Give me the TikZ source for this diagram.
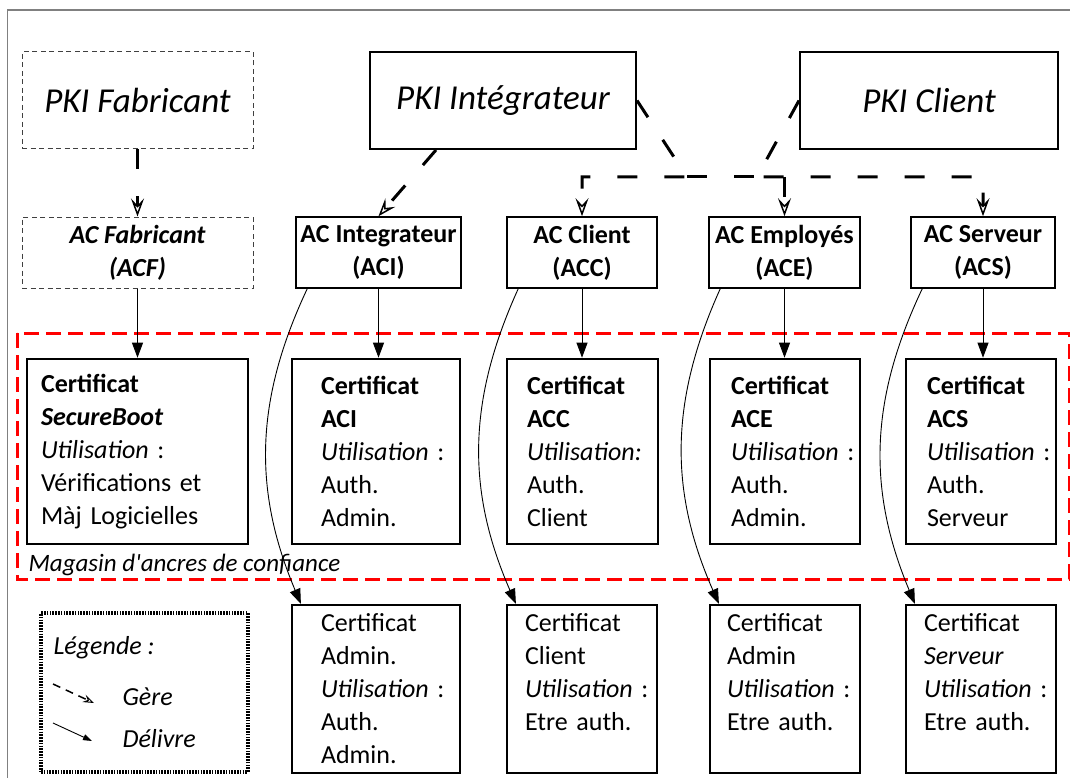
\documentclass[tikz,border=0pt]{standalone}
\usepackage{fontspec}
\setmainfont{Carlito}
\usetikzlibrary{arrows.meta}
\hyphenpenalty=10000

\tikzset{
  pki/.style={draw, line width=2pt, minimum height=97pt, inner sep=0pt, font=\fontsize{35}{42}\selectfont\itshape},
  acbox/.style={draw, line width=1.6pt, minimum height=71pt, inner sep=0pt, align=center, font=\fontsize{26}{33}\selectfont\bfseries},
  fabbox/.style={draw=black!75, line width=1pt, dash pattern=on 5pt off 3.5pt},
  certbox/.style={draw, line width=2.6pt, minimum height=185pt, inner ysep=0pt, align=left, font=\fontsize{26}{33}\selectfont},
  userbox/.style={draw, line width=2.2pt, minimum height=168pt, inner ysep=0pt, align=left, font=\fontsize{26}{33}\selectfont},
  gere/.style={line width=3pt, dash pattern=on 20pt off 27pt, -{Stealth[open, length=18pt, width=13pt, inset=7pt, line width=1.5pt]}},
  delivre/.style={line width=0.9pt, -{Triangle[length=15pt, width=11pt]}},
  legtext/.style={anchor=base west, font=\fontsize{26}{31}\selectfont\itshape},
}

\begin{document}
\begin{tikzpicture}[x=1pt, y=1pt]
  \useasboundingbox (0,0) rectangle (1070,-778);
  \draw [gray, line width=1.5pt] (7.5,-778) -- (7.5,-10) -- (1070,-10);

  % les PKI
  \node [pki, fabbox, minimum width=231pt] (pkiF) at (137.5,-100.5) {PKI Fabricant};
  \node [pki, minimum width=266pt] (pkiI) at (503,-100.5) {PKI Intégrateur};
  \node [pki, minimum width=258pt] (pkiC) at (929,-100.5) {PKI Client};

  % les AC
  \node [acbox, fabbox, minimum width=231pt, font=\fontsize{26}{33}\selectfont\bfseries\itshape] (acf) at (137.5,-252.5) {AC Fabricant\\(ACF)};
  \node [acbox, minimum width=165pt] (aci) at (378.5,-252.5) {AC Integrateur\\(ACI)};
  \node [acbox, minimum width=150pt] (acc) at (582,-252.5) {AC Client\\(ACC)};
  \node [acbox, minimum width=151pt] (ace) at (784.5,-252.5) {AC Employés\\(ACE)};
  \node [acbox, minimum width=144pt] (acs) at (983,-252.5) {AC Serveur\\(ACS)};

  % magasin d'ancres
  \draw [red, line width=3pt, dash pattern=on 15pt off 7pt] (17,-333) rectangle (1069,-579);
  \node [anchor=base west, font=\fontsize{25}{30}\selectfont\itshape] (magasin) at (25,-571) {Magasin d\textquotesingle ancres de confiance};

  \node [certbox, text width=193pt, inner xsep=14pt] (cSB) at (137.5,-451.5) {\textbf{Certificat}\\\textbf{\textit{SecureBoot}}\\\textit{Utilisation}~:\\Vérifications~et\\Màj~Logicielles};
  \node [certbox, text width=110pt, inner xsep=29pt] (cACI) at (376,-451.5) {\textbf{Certificat}\\\textbf{ACI}\\\textit{Utilisation}~:\\Auth.\\Admin.};
  \node [certbox, text width=111pt, inner xsep=20pt] (cACC) at (582.5,-451.5) {\textbf{Certificat}\\\textbf{ACC}\\\textit{Utilisation:}\\Auth.\\Client};
  \node [certbox, text width=108pt, inner xsep=21pt] (cACE) at (785,-451.5) {\textbf{Certificat}\\\textbf{ACE}\\\textit{Utilisation}~:\\Auth.\\Admin.};
  \node [certbox, text width=108pt, inner xsep=21pt] (cACS) at (981,-451.5) {\textbf{Certificat}\\\textbf{ACS}\\\textit{Utilisation}~:\\Auth.\\Serveur};

  % certificats delivres
  \node [userbox, text width=110pt, inner xsep=29pt] (bAdm) at (376,-689) {Certificat\\Admin.\\\textit{Utilisation}~:\\Auth.\\Admin.};
  \node [userbox, text width=114pt, inner xsep=18pt] (bCli) at (582,-689) {Certificat\\Client\\\textit{Utilisation}~:\\Etre~auth.\\\mbox{}};
  \node [userbox, text width=116pt, inner xsep=17pt] (bEmp) at (785,-689) {Certificat\\Admin\\\textit{Utilisation}~:\\Etre~auth.\\\mbox{}};
  \node [userbox, text width=114pt, inner xsep=18pt] (bSrv) at (981,-689) {Certificat\\\textit{Serveur}\\\textit{Utilisation}~:\\Etre~auth.\\\mbox{}};

  % gere
  \coordinate (jI) at (687,-177);
  \coordinate (jC) at (757,-177);
  \draw [gere] (pkiF.south) -- (acf.north);
  \draw [gere] ([xshift=67pt]pkiI.south west) -- (aci.north);
  \draw [gere] (pkiI.east) -- (jI) -| (acc.north);
  \draw [gere] (pkiC.west) -- (jC) -| (acs.north);
  \draw [gere, -] (jI) -- (jC);
  \draw [gere] (ace.north |- jC) -- (ace.north);

  % delivre
  \foreach \a/\c in {acf/cSB, aci/cACI, acc/cACC, ace/cACE, acs/cACS}
    \draw [delivre] (\a.south) -- (\a.south |- \c.north);
  \foreach \a/\b in {aci/bAdm, acc/bCli, ace/bEmp, acs/bSrv}
    \draw [delivre] ([xshift=12pt]\a.south west) to[bend right=24] ([xshift=10pt]\b.north west);

  % legende
  \node [draw, line width=3.5pt, dash pattern=on 1.6pt off 1.2pt, minimum width=207pt, minimum height=159pt] (legende) at (144.5,-692.5) {};
  \node [legtext] (legT) at (50,-654) {Légende :};
  \node [legtext] (legG) at (119,-705) {Gère};
  \node [legtext] (legD) at (119,-747) {Délivre};
  \coordinate (g1) at (53,-684);
  \coordinate (g2) at (94,-703);
  \coordinate (d1) at (53,-723);
  \coordinate (d2) at (92,-741);
  \draw [line width=1.5pt, dash pattern=on 8pt off 6pt, -{Stealth[open, length=11pt, width=8pt, inset=4pt, line width=1pt]}] (g1) -- (g2);
  \draw [line width=0.9pt, -{Triangle[length=9pt, width=6pt]}] (d1) -- (d2);
\end{tikzpicture}
\end{document}
